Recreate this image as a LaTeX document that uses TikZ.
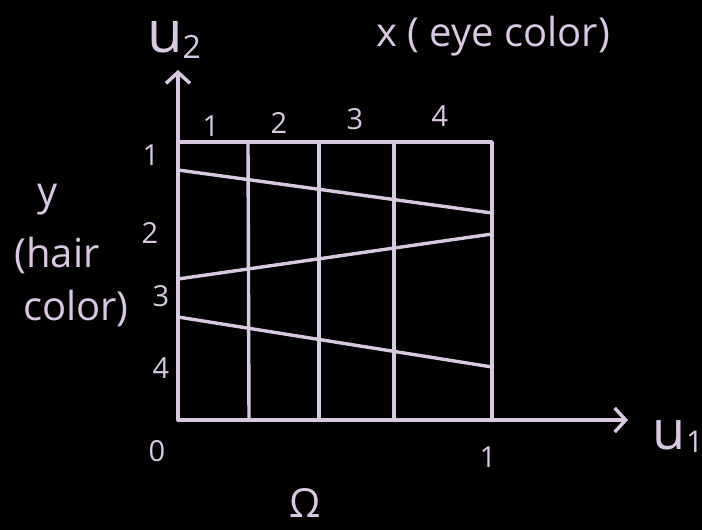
\documentclass[tikz,border=0pt]{standalone}
\usepackage{fontspec}
\setmainfont{Open Sans}
\usetikzlibrary{arrows.meta}
\definecolor{chalk}{HTML}{D9C8E1}
\tikzset{
  ln/.style={draw=chalk, line width=3.4pt, line cap=round, line join=round},
  lbl/.style={text=chalk, inner sep=0pt, font=\fontsize{40}{42}\selectfont},
  num/.style={text=chalk, inner sep=0pt, font=\fontsize{29}{30}\selectfont},
  tip/.style={-{Straight Barb[length=11pt,width=24pt,line width=3.4pt]}}
}
\begin{document}
\begin{tikzpicture}[x=1pt,y=-1pt]
\fill[black] (0,0) rectangle (702,530);
\useasboundingbox (0,0) rectangle (702,530);
% corners
\coordinate (O) at (178,420);
\coordinate (TL) at (178,142);
\coordinate (TR) at (492,142);
\coordinate (BR) at (492,420);
\coordinate (Ytip) at (178,70);
\coordinate (Xtip) at (628,420);
% vertical dividers
\coordinate (v1t) at (248,142); \coordinate (v1b) at (249,420);
\coordinate (v2t) at (319,142); \coordinate (v2b) at (319,420);
\coordinate (v3t) at (394,142); \coordinate (v3b) at (394,420);
% slanted lines
\coordinate (s1l) at (178,170); \coordinate (s1r) at (492,213);
\coordinate (s2l) at (178,279); \coordinate (s2r) at (492,234);
\coordinate (s3l) at (178,317); \coordinate (s3r) at (492,367);
% axes
\draw[ln,tip] (O) -- (Ytip);
\draw[ln,tip] (O) -- (Xtip);
% box
\draw[ln] (TL) -- (TR) -- (BR);
\draw[ln] (v1t) -- (v1b);
\draw[ln] (v2t) -- (v2b);
\draw[ln] (v3t) -- (v3b);
\draw[ln] (s1l) -- (s1r);
\draw[ln] (s2l) -- (s2r);
\draw[ln] (s3l) -- (s3r);
% labels
\node[lbl] (u2) at (174,40) {{\fontsize{58}{58}\selectfont u}\raisebox{-6pt}{\fontsize{32}{32}\selectfont 2}};
\node[lbl] (xl) at (493,36) {x ( eye color)};
\node[lbl] (u1) at (678,437) {{\fontsize{54}{54}\selectfont u}\raisebox{-3pt}{\fontsize{30}{30}\selectfont 1}};
\node[lbl] (yl) at (48,200) {y};
\node[lbl] (hair) at (57,255) {(hair};
\node[lbl] (color) at (76,308) {color)};
\node[lbl, font=\fontsize{40}{40}\selectfont] (om) at (305,503) {Ω};
\node[num] (c1) at (211,126) {1};
\node[num] (c2) at (279,123) {2};
\node[num] (c3) at (355,119) {3};
\node[num] (c4) at (440,116) {4};
\node[num] (r1) at (151,155) {1};
\node[num] (r2) at (150,233) {2};
\node[num] (r3) at (161,296) {3};
\node[num] (r4) at (161,368) {4};
\node[num] (z0) at (157,451) {0};
\node[num] (one) at (488,457) {1};
\end{tikzpicture}
\end{document}
